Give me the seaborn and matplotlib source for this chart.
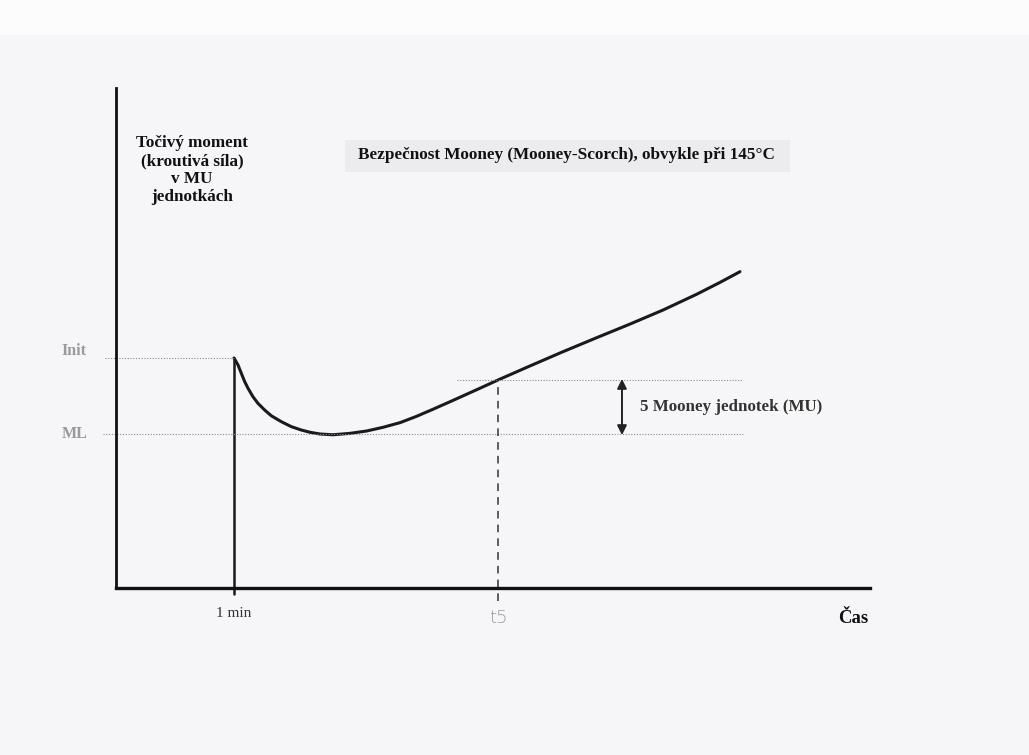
import matplotlib
matplotlib.use("Agg")
import matplotlib.pyplot as plt
import seaborn as sns
import pandas as pd
from matplotlib.patches import Rectangle

# ---- data (time in min, torque in Mooney units) ----
time = [1.0, 1.034, 1.062, 1.091, 1.119, 1.161, 1.203, 1.260, 1.316, 1.401,
        1.486, 1.570, 1.644, 1.729, 1.839, 1.983, 2.125, 2.263, 2.407, 2.548,
        2.686, 2.831, 3.085, 3.237, 3.508, 3.788, 4.074, 4.356, 4.636, 4.921,
        5.119, 5.288]
torque = [21.30, 20.65, 19.88, 19.10, 18.49, 17.71, 17.10, 16.48, 15.95, 15.40,
          14.94, 14.63, 14.42, 14.26, 14.19, 14.32, 14.54, 14.88, 15.31, 15.90,
          16.55, 17.25, 18.50, 19.26, 20.56, 21.88, 23.18, 24.44, 25.74, 27.20,
          28.30, 29.29]
init_val = 21.3
ml_val = 14.26
delta_mu = 5.0
t5 = 3.237
t_start = 1.0
x_max = 6.39
y_max = 46.3

title_text = "Bezpečnost Mooney (Mooney-Scorch), obvykle při 145°C"
ylabel_text = "Točivý moment\n(kroutivá síla)\nv MU\njednotkách"
delta_text = "5 Mooney jednotek (MU)"
xlabel_text = "Čas"

sns.set_theme(style="white")
plt.rcParams["font.family"] = ["Liberation Serif", "DejaVu Serif"]

fig = plt.figure(figsize=(10.29, 7.55), dpi=100, facecolor="#f6f6f8")
fig.patches.append(Rectangle((0, 1 - 35 / 755), 1, 35 / 755, transform=fig.transFigure,
                             facecolor="#fcfcfc", edgecolor="none", zorder=-1))
ax = fig.add_axes([116 / 1029, (755 - 588) / 755, (870 - 116) / 1029, 500 / 755])
ax.set_facecolor("none")

df = pd.DataFrame({"time": time, "torque": torque})
sns.lineplot(data=df, x="time", y="torque", ax=ax, color="#1a1a1a", linewidth=2.2,
             sort=False, estimator=None, solid_joinstyle="round", solid_capstyle="round")
# vertical rise at 1 min
ax.plot([t_start, t_start], [-0.6, init_val], color="#1a1a1a", linewidth=1.8, clip_on=False)

ax.set_xlim(0, x_max)
ax.set_ylim(0, y_max)
for s in ["top", "right"]:
    ax.spines[s].set_visible(False)
ax.spines["left"].set_linewidth(2.0)
ax.spines["bottom"].set_linewidth(2.4)
ax.spines["left"].set_color("#111111")
ax.spines["bottom"].set_color("#111111")
ax.set_xticks([])
ax.set_yticks([])
ax.set_xlabel("")
ax.set_ylabel("")

dot_kw = dict(color="#8a8a8a", linestyle=(0, (1, 1.5)), linewidth=0.8, clip_on=False)
ax.plot([-0.09, t_start], [init_val, init_val], **dot_kw)
ax.plot([-0.11, 5.31], [ml_val, ml_val], **dot_kw)
ax.plot([2.89, 5.31], [ml_val + delta_mu, ml_val + delta_mu], **dot_kw)

# t5 dashed
ax.plot([t5, t5], [-1.2, ml_val + delta_mu], color="#333333", linestyle=(0, (5, 4)),
        linewidth=1.1, clip_on=False)

# double arrow
ax.annotate("", xy=(4.288, ml_val - 0.1), xytext=(4.288, ml_val + delta_mu + 0.1),
            arrowprops=dict(arrowstyle="<|-|>", color="#222222", lw=1.4,
                            mutation_scale=14, shrinkA=0, shrinkB=0))
ax.text(4.44, ml_val + delta_mu / 2, delta_text, fontsize=12.2, fontweight="bold",
        color="#333333", va="center", ha="left")

# labels at the axes
ax.text(-0.46, init_val + 0.6, "Init", fontsize=11.5, color="#9a9a9a", fontweight="bold",
        va="center", ha="left")
ax.text(-0.46, ml_val, "ML", fontsize=11.5, color="#9a9a9a", fontweight="bold",
        va="center", ha="left")
ax.text(t_start, -2.4, "1 min", fontsize=11, color="#333333", va="center", ha="center")
ax.text(t5, -2.8, "t5", fontsize=13, color="#9a9a9a", va="center", ha="center",
        family=["DejaVu Sans"], fontweight="light")
ax.text(x_max - 0.01, -2.8, xlabel_text, fontsize=13.5, fontweight="bold", color="#111111",
        va="center", ha="right")

# y label block
fig.text(192 / 1029, 1 - 170 / 755, ylabel_text, fontsize=12.3, fontweight="bold",
         color="#111111", ha="center", va="center", linespacing=1.15)

# title with light box
fig.patches.append(Rectangle((345 / 1029, 1 - 172 / 755), 445 / 1029, 32 / 755,
                             transform=fig.transFigure, facecolor="#ececef",
                             edgecolor="none"))
fig.text(566 / 1029, 1 - 155 / 755, title_text, fontsize=12.3, fontweight="bold",
         color="#111111", ha="center", va="center")

fig.savefig("out.png", dpi=100, facecolor=fig.get_facecolor())
